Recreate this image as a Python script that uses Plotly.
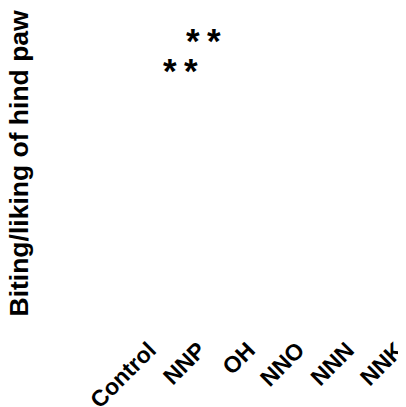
import plotly.graph_objects as go

categories = ["Control", "NNP", "OH", "NNO", "NNN", "NNK"]
# significance markers (position in category units, height in axis units)
sig_x = [0.62, 1.10]
sig_y = [0.808, 0.898]
sig_stars = [2, 2]
y_title = "Biting/liking of hind paw"

FONT = "Liberation Sans, Arial, sans-serif"
STAR_GAP = 21  # px between star centres

fig = go.Figure()
fig.add_trace(go.Scatter(x=categories, y=[None] * len(categories), mode="markers",
                         marker=dict(opacity=0), showlegend=False, hoverinfo="skip"))

for x, y, n in zip(sig_x, sig_y, sig_stars):
    for k in range(n):
        shift = (k - (n - 1) / 2) * STAR_GAP
        fig.add_annotation(x=x, y=y, xref="x", yref="y", text="*", showarrow=False,
                           xshift=shift, borderpad=0,
                           font=dict(family=FONT, size=35, color="black", weight="bold"))

# y-axis title
fig.add_annotation(x=0, y=0.5, xref="paper", yref="paper", text=y_title,
                   textangle=-90, showarrow=False, xanchor="center", yanchor="middle",
                   xshift=-20, yshift=6, borderpad=0,
                   font=dict(family=FONT, size=26.5, color="black", weight="bold"))

fig.update_layout(
    width=406, height=407,
    margin=dict(l=30, r=0, t=0, b=84),
    paper_bgcolor="white", plot_bgcolor="white",
    showlegend=False,
    xaxis=dict(type="category", range=[-2.25, 5.346], showline=False, showgrid=False,
               zeroline=False, ticks="", tickangle=-45,
               tickfont=dict(family=FONT, size=23, color="black", weight="bold")),
    yaxis=dict(range=[0, 1], showline=False, showgrid=False, zeroline=False,
               showticklabels=False, ticks=""),
)
fig.write_html("out.html")
